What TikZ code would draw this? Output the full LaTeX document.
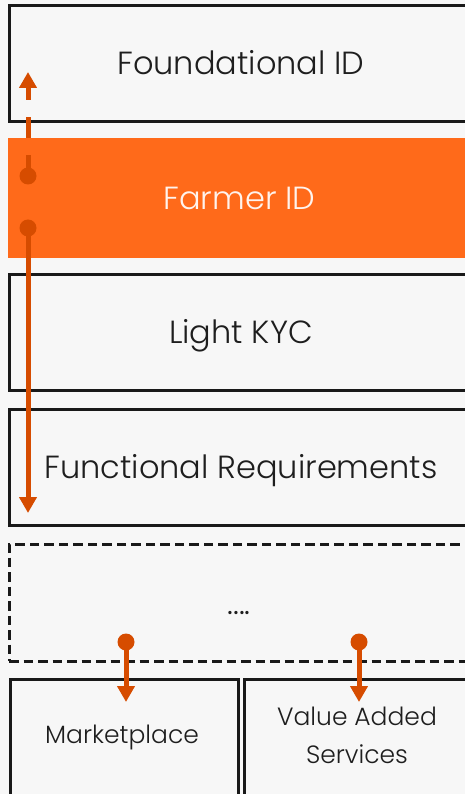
\documentclass[tikz,border=0pt]{standalone}
\usepackage{fontspec}
\setmainfont{Poppins}[UprightFont=* Light]
\usetikzlibrary{arrows.meta}
\definecolor{bg}{RGB}{247,247,247}
\definecolor{boxline}{RGB}{25,25,25}
\definecolor{farmer}{RGB}{255,106,26}
\definecolor{arr}{RGB}{214,76,0}
\definecolor{txt}{RGB}{30,30,30}
\tikzset{
  layer/.style={draw=boxline, line width=3pt, fill=bg, minimum width=464pt, minimum height=116pt, anchor=north west, inner sep=0pt, font=\fontsize{32}{36}\selectfont, text=txt, text height=22.4pt, text depth=0pt},
  small/.style={draw=boxline, line width=3pt, fill=bg, anchor=north west, inner sep=0pt},
  lbl/.style={inner sep=0pt, font=\fontsize{25}{30}\selectfont, text=txt, text height=17.5pt, text depth=0pt},
  link/.style={draw=arr, line width=5pt, -{Triangle[length=16pt,width=17pt]}},
  dot/.style={circle, fill=arr, inner sep=0pt, minimum size=17pt},
}
\begin{document}
\begin{tikzpicture}[x=1pt,y=-1pt]
\useasboundingbox (0,0) rectangle (465,794);
\fill[bg] (0,0) rectangle (465,794);
\clip (0,0) rectangle (465,794);
\node[layer] (found) at (7.5,4) {Foundational ID};
\node[layer, draw=none, fill=farmer, text=white!92!farmer, minimum height=120pt] (farmer) at (6,136.5) {Farmer ID};
\node[layer] (kyc) at (7.5,272.5) {Light KYC};
\node[layer] (func) at (7.5,407.5) {Functional Requirements};
\node[layer, dashed, dash pattern=on 9.5pt off 5pt, minimum height=117pt] (more) at (7.5,542.5) {};
\node[inner sep=0pt, font=\fontsize{32}{36}\selectfont, text=txt, anchor=base] (dots) at (239,614) {....};
\node[small, minimum width=228pt, minimum height=125pt] (market) at (8.5,678) {};
\node[small, minimum width=235pt, minimum height=125pt] (vas) at (242.5,678) {};
\node[lbl] (mtext) at (122,735) {Marketplace};
\node[lbl] (vtext1) at (357,717) {Value Added};
\node[lbl] (vtext2) at (357,755) {Services};
% dots
\node[dot] (d1) at (28,176) {};
\node[dot] (d2) at (28,228) {};
\node[dot] (d3) at (126,642) {};
\node[dot] (d4) at (359,642) {};
\coordinate (t1) at (28,72);
\coordinate (t2) at (28,513);
\coordinate (t3) at (126,702);
\coordinate (t4) at (359,702);
\draw[link, dash pattern=on 21pt off 17pt] (d1.center) -- (t1);
\draw[link] (d2.center) -- (t2);
\draw[link] (d3.center) -- (t3);
\draw[link] (d4.center) -- (t4);
\end{tikzpicture}
\end{document}
